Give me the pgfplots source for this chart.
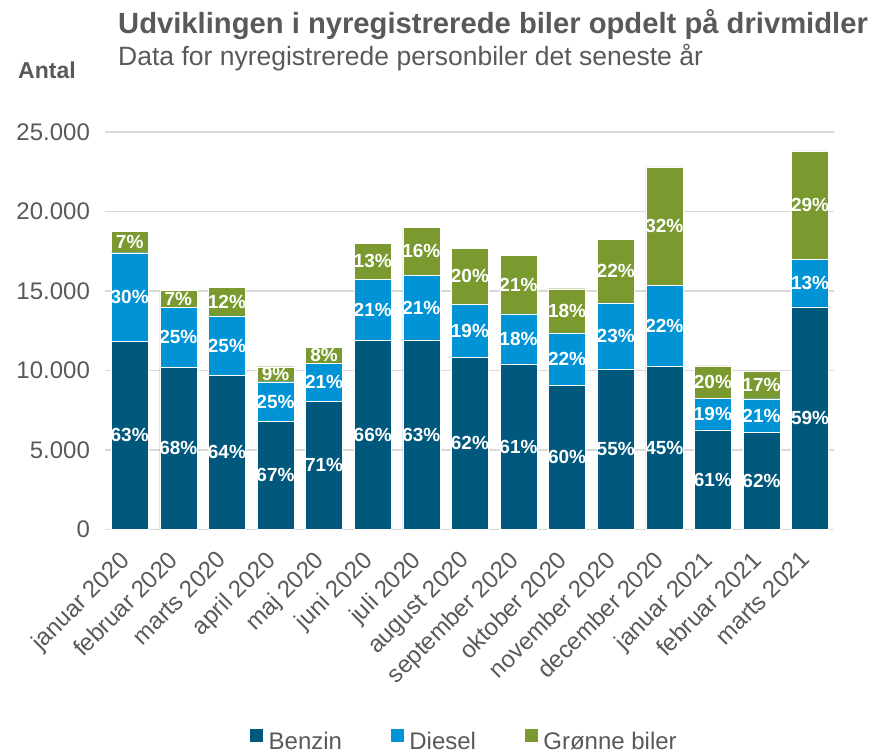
\documentclass[border=0pt]{standalone}
\usepackage{fontspec}
\setmainfont{Liberation Sans}
\usepackage{pgfplots}
\pgfplotsset{compat=1.18}
\definecolor{benzin}{HTML}{00587C}
\definecolor{diesel}{HTML}{0093D6}
\definecolor{groen}{HTML}{7A9A2F}
\definecolor{txt}{HTML}{595959}
\definecolor{gridc}{HTML}{D9D9D9}
\begin{document}
\begin{tikzpicture}
\path[use as bounding box] (0pt,0pt) rectangle (872pt,753pt);
\node[anchor=base west, inner sep=0pt, text=txt, font=\bfseries\fontsize{29.2}{34}\selectfont] at (118pt,719pt) {Udviklingen i nyregistrerede biler opdelt på drivmidler};
\node[anchor=base west, inner sep=0pt, text=txt, font=\fontsize{26.5}{31}\selectfont] at (118pt,687pt) {Data for nyregistrerede personbiler det seneste år};
\node[anchor=base west, inner sep=0pt, text=txt, font=\bfseries\fontsize{23}{27}\selectfont] at (18pt,674pt) {Antal};
\begin{axis}[
  at={(105.4pt,223.7pt)}, anchor=south west,
  scale only axis, width=729pt, height=397.4pt,
  ybar stacked, bar width=37pt,
  xmin=-0.5, xmax=14.5, ymin=0, ymax=25000,
  scaled y ticks=false,
  xtick={0,...,14},
  xticklabels={januar 2020,februar 2020,marts 2020,april 2020,maj 2020,juni 2020,juli 2020,august 2020,september 2020,oktober 2020,november 2020,december 2020,januar 2021,februar 2021,marts 2021},
  ytick={0,5000,10000,15000,20000,25000},
  yticklabels={0,5.000,10.000,15.000,20.000,25.000},
  axis line style={draw=none}, major tick length=0pt,
  ymajorgrids, grid style={gridc, line width=1.5pt},
  tick label style={font=\fontsize{24}{28}\selectfont, text=txt},
  yticklabel style={anchor=east, xshift=-12pt},
  xticklabel style={rotate=45, anchor=north east, inner sep=0pt, xshift=-22pt, yshift=-6pt},
  nodes near coords,
  point meta=explicit symbolic,
  every node near coord/.append style={anchor=center, text=white, font=\bfseries\fontsize{19}{21}\selectfont},
  legend style={at={(0.492,-0.5625)}, anchor=south, draw=none, fill=none, legend columns=3,
    font=\fontsize{24}{28}\selectfont, text=txt, inner sep=0pt,
    /tikz/every odd column/.append style={column sep=3pt},
    /tikz/every even column/.append style={column sep=46pt}},
  legend image code/.code={\fill[#1] (0pt,-1pt) rectangle (14pt,13pt);},
  legend cell align=left,
]
\addplot[fill=benzin, draw=white, line width=0.3pt] coordinates {
(0,11830) [63\%] (1,10190) [68\%] (2,9685) [64\%] (3,6785) [67\%] (4,8045) [71\%]
(5,11890) [66\%] (6,11915) [63\%] (7,10820) [62\%] (8,10405) [61\%] (9,9055) [60\%]
(10,10065) [55\%] (11,10250) [45\%] (12,6260) [61\%] (13,6090) [62\%] (14,14000) [59\%]};
\addplot[fill=diesel, draw=white, line width=0.3pt] coordinates {
(0,5570) [30\%] (1,3765) [25\%] (2,3745) [25\%] (3,2500) [25\%] (4,2395) [21\%]
(5,3830) [21\%] (6,4055) [21\%] (7,3340) [19\%] (8,3150) [18\%] (9,3305) [22\%]
(10,4185) [23\%] (11,5110) [22\%] (12,1975) [19\%] (13,2125) [21\%] (14,3000) [13\%]};
\addplot[fill=groen, draw=white, line width=0.3pt] coordinates {
(0,1345) [7\%] (1,1070) [7\%] (2,1785) [12\%] (3,945) [9\%] (4,1010) [8\%]
(5,2270) [13\%] (6,3045) [16\%] (7,3510) [20\%] (8,3675) [21\%] (9,2775) [18\%]
(10,3990) [22\%] (11,7440) [32\%] (12,2045) [20\%] (13,1705) [17\%] (14,6810) [29\%]};
\legend{Benzin, Diesel, Grønne biler}
\end{axis}
\end{tikzpicture}
\end{document}
